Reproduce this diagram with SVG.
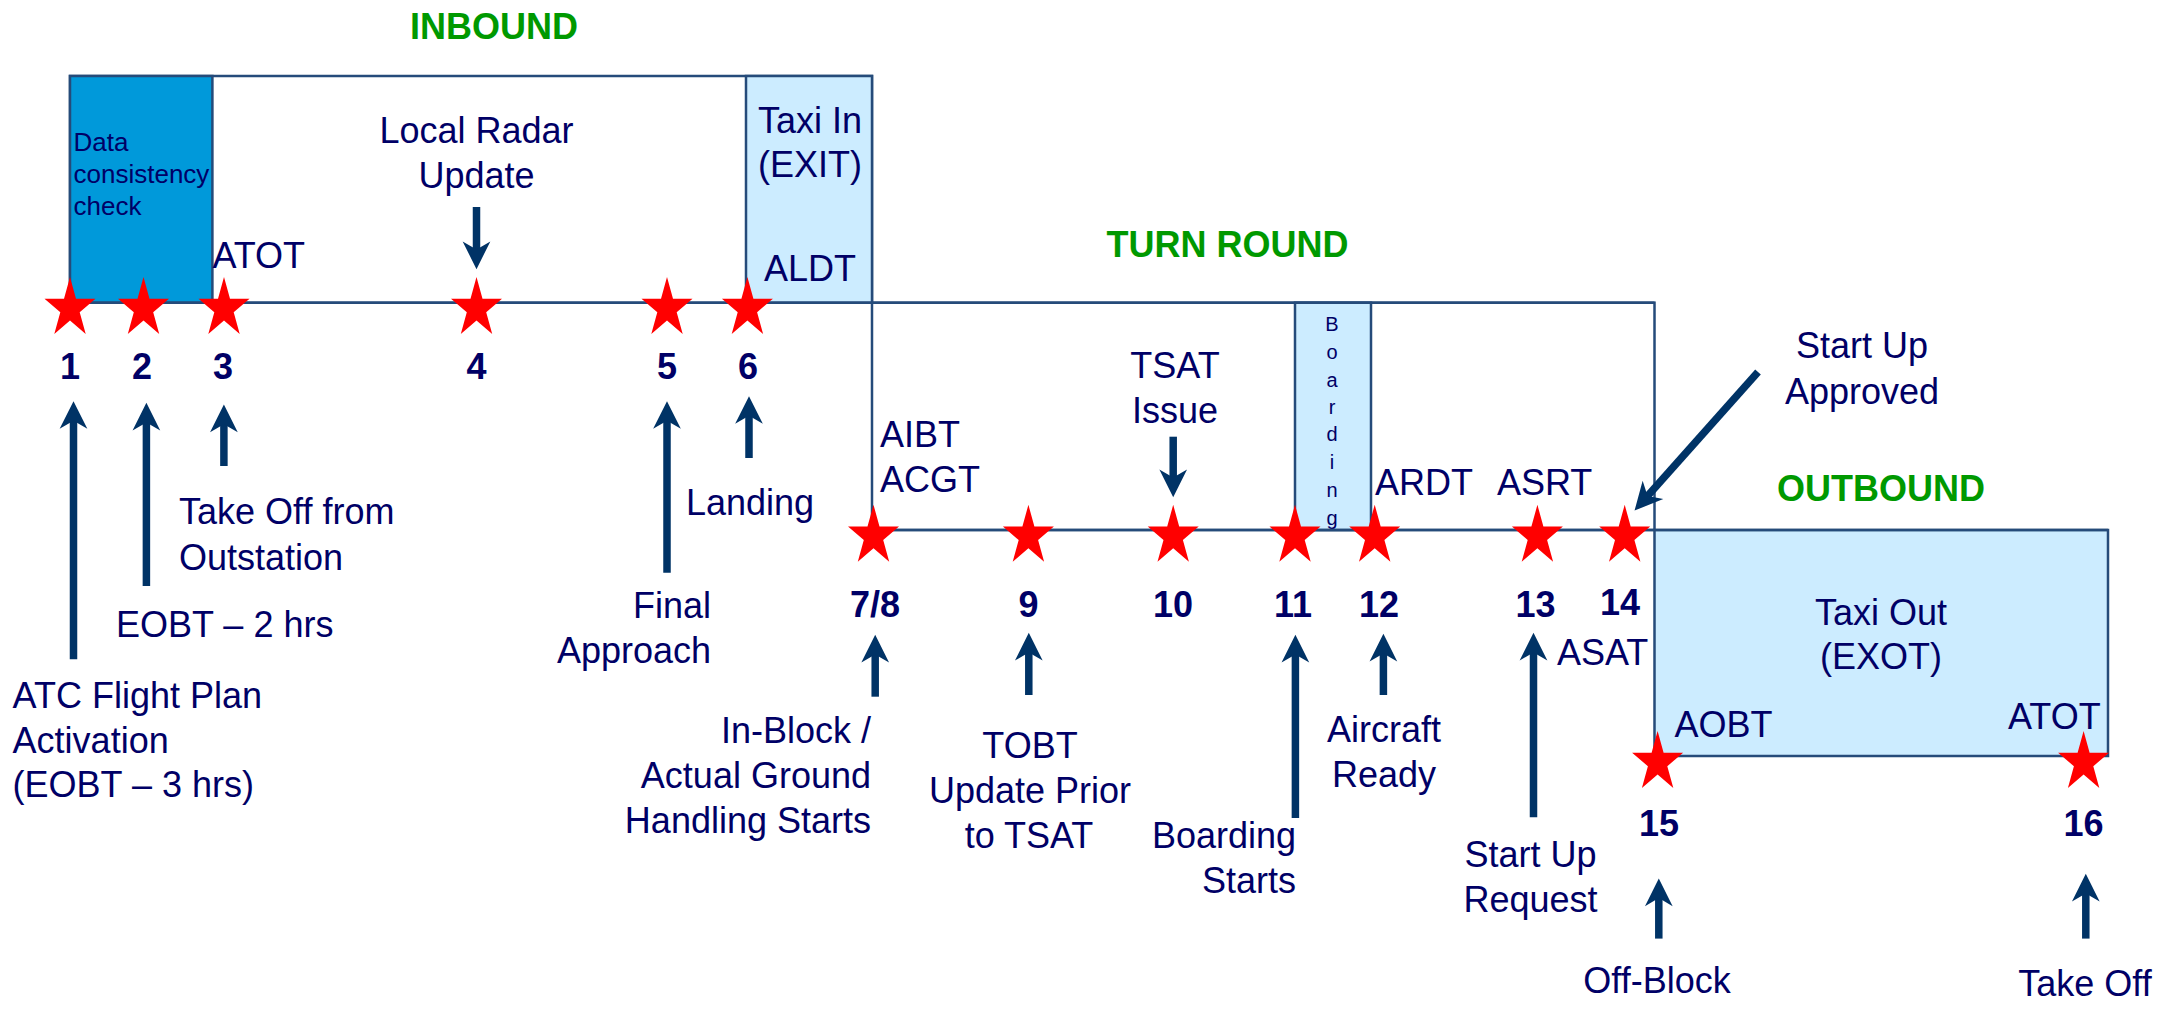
<svg xmlns="http://www.w3.org/2000/svg" width="2164" height="1010" viewBox="0 0 2164 1010">
<defs>
<style>
.t{font-family:"Liberation Sans",Arial,sans-serif;font-size:36px;fill:#000066}
.m{text-anchor:middle}
.e{text-anchor:end}
.n{font-family:"Liberation Sans",Arial,sans-serif;font-size:36px;font-weight:bold;fill:#000066;text-anchor:middle}
.g{font-family:"Liberation Sans",Arial,sans-serif;font-size:36px;font-weight:bold;fill:#009900;text-anchor:middle}
.box{stroke:#254B7A;stroke-width:2.5}
.ar{stroke:#003366;stroke-width:7.5;fill:none;marker-end:url(#ah)}
</style>
<marker id="ah" markerUnits="userSpaceOnUse" markerWidth="30" markerHeight="30" viewBox="0 -13 25 26" refX="10" refY="0" orient="auto">
<path d="M24,0 L0,-12 L7,0 L0,12 Z" fill="#003366"/>
</marker>
<path id="star" d="M0,-31.5 L6,-9.7 L25.5,-9.7 L9.7,3.7 L15.7,25.5 L0,12 L-15.7,25.5 L-9.7,3.7 L-25.5,-9.7 L-6,-9.7 Z" fill="#FF0000"/>
</defs>
<rect width="2164" height="1010" fill="#FFFFFF"/>

<g id="phase-inbound">
<text class="g" x="494" y="39">INBOUND</text>
<rect class="box" x="70" y="76" width="802" height="226.7" fill="#FFFFFF"/>
</g>
<g id="phase-turnround">
<text class="g" x="1227.5" y="257">TURN ROUND</text>
<rect class="box" x="872" y="302.7" width="782.5" height="227.3" fill="#FFFFFF"/>
</g>
<g id="phase-outbound">
<text class="g" x="1881" y="500.6">OUTBOUND</text>
<rect class="box" x="1654.5" y="530" width="453.5" height="226" fill="#CCECFF"/>
<text class="t m" x="1881" y="625">Taxi Out</text>
<text class="t m" x="1881" y="669">(EXOT)</text>
</g>
<g id="data-check">
<rect class="box" x="70" y="76" width="142.4" height="226.7" fill="#0099DA"/>
<text class="t" style="font-size:26px" x="73.5" y="150.7">Data</text>
<text class="t" style="font-size:26px" x="73.5" y="182.7">consistency</text>
<text class="t" style="font-size:26px" x="73.5" y="214.5">check</text>
</g>
<g id="taxi-in">
<rect class="box" x="746" y="76" width="126" height="226.7" fill="#CCECFF"/>
<text class="t m" x="810" y="133">Taxi In</text>
<text class="t m" x="810" y="177">(EXIT)</text>
<text class="t m" x="810" y="281">ALDT</text>
</g>
<g id="boarding">
<rect class="box" x="1295" y="302.7" width="76" height="227.3" fill="#CCECFF"/>
<g class="t m" style="font-size:20px">
<text x="1332" y="331">B</text>
<text x="1332" y="359">o</text>
<text x="1332" y="387">a</text>
<text x="1332" y="414">r</text>
<text x="1332" y="441">d</text>
<text x="1332" y="469">i</text>
<text x="1332" y="497">n</text>
<text x="1332" y="525">g</text>
</g>
</g>
<line class="box" x1="70" y1="302.7" x2="1654.5" y2="302.7" stroke-width="3"/>
<line class="box" x1="872" y1="530" x2="2108" y2="530" stroke-width="3"/>

<g id="connectors">
<line class="ar" x1="73.5" y1="659.3" x2="73.5" y2="417.3"/>
<line class="ar" x1="146.4" y1="586" x2="146.4" y2="419"/>
<line class="ar" x1="223.9" y1="466" x2="223.9" y2="420.7"/>
<line class="ar" x1="476.5" y1="207" x2="476.5" y2="253"/>
<line class="ar" x1="667" y1="572.7" x2="667" y2="417.3"/>
<line class="ar" x1="749" y1="458" x2="749" y2="412.3"/>
<line class="ar" x1="875.2" y1="696.7" x2="875.2" y2="651"/>
<line class="ar" x1="1028.8" y1="695" x2="1028.8" y2="649"/>
<line class="ar" x1="1173.2" y1="436.7" x2="1173.2" y2="481"/>
<line class="ar" x1="1295.4" y1="818" x2="1295.4" y2="651"/>
<line class="ar" x1="1383.4" y1="695" x2="1383.4" y2="650"/>
<line class="ar" x1="1533.5" y1="817.3" x2="1533.5" y2="649"/>
<line class="ar" x1="1758" y1="372" x2="1645.3" y2="498.5"/>
<line class="ar" x1="1658.8" y1="938.6" x2="1658.8" y2="894.6"/>
<line class="ar" x1="2085.8" y1="938.6" x2="2085.8" y2="890"/>
</g>

<g id="m1">
<use href="#star" transform="translate(70,308.5)"/>
<text class="n" x="70" y="379">1</text>
<text class="t" x="12.6" y="708.3">ATC Flight Plan</text>
<text class="t" x="12.6" y="752.7">Activation</text>
<text class="t" x="12.6" y="796.7">(EOBT – 3 hrs)</text>
</g>
<g id="m2">
<use href="#star" transform="translate(143.5,308.5)"/>
<text class="n" x="142" y="379">2</text>
<text class="t" x="116" y="636.7">EOBT – 2 hrs</text>
</g>
<g id="m3">
<use href="#star" transform="translate(224,308.5)"/>
<text class="n" x="223" y="379">3</text>
<text class="t" x="212.4" y="268">ATOT</text>
<text class="t" x="179" y="524.3">Take Off from</text>
<text class="t" x="179" y="570">Outstation</text>
</g>
<g id="m4">
<use href="#star" transform="translate(476.5,308.5)"/>
<text class="n" x="476.5" y="379">4</text>
<text class="t m" x="476.5" y="143">Local Radar</text>
<text class="t m" x="476.5" y="188">Update</text>
</g>
<g id="m5">
<use href="#star" transform="translate(667,308.5)"/>
<text class="n" x="667" y="379">5</text>
<text class="t e" x="711" y="618.3">Final</text>
<text class="t e" x="711" y="663.3">Approach</text>
</g>
<g id="m6">
<use href="#star" transform="translate(747.4,308.5)"/>
<text class="n" x="748" y="379">6</text>
<text class="t" x="686" y="515">Landing</text>
</g>
<g id="m7-8">
<use href="#star" transform="translate(873.5,536.3)"/>
<text class="n" x="875" y="616.5">7/8</text>
<text class="t" x="880" y="447.3">AIBT</text>
<text class="t" x="880" y="492.3">ACGT</text>
<text class="t e" x="871" y="742.7">In-Block /</text>
<text class="t e" x="871" y="788.3">Actual Ground</text>
<text class="t e" x="871" y="833.3">Handling Starts</text>
</g>
<g id="m9">
<use href="#star" transform="translate(1028.4,536.3)"/>
<text class="n" x="1028.5" y="616.5">9</text>
<text class="t m" x="1030" y="758.3">TOBT</text>
<text class="t m" x="1030" y="803.3">Update Prior</text>
<text class="t m" x="1029" y="847.7">to TSAT</text>
</g>
<g id="m10">
<use href="#star" transform="translate(1173.2,536.3)"/>
<text class="n" x="1173" y="616.5">10</text>
<text class="t m" x="1175" y="378.3">TSAT</text>
<text class="t m" x="1175" y="422.7">Issue</text>
</g>
<g id="m11">
<use href="#star" transform="translate(1295,536.3)"/>
<text class="n" x="1293" y="616.5">11</text>
<text class="t e" x="1296" y="847.7">Boarding</text>
<text class="t e" x="1296" y="892.7">Starts</text>
</g>
<g id="m12">
<use href="#star" transform="translate(1374.7,536.3)"/>
<text class="n" x="1379" y="616.5">12</text>
<text class="t" x="1375" y="495">ARDT</text>
<text class="t m" x="1384" y="741.7">Aircraft</text>
<text class="t m" x="1384" y="786.7">Ready</text>
</g>
<g id="m13">
<use href="#star" transform="translate(1537.4,536.3)"/>
<text class="n" x="1535.5" y="616.5">13</text>
<text class="t" x="1497" y="495">ASRT</text>
<text class="t m" x="1530.5" y="866.7">Start Up</text>
<text class="t m" x="1530.5" y="911.7">Request</text>
</g>
<g id="m14">
<use href="#star" transform="translate(1624.7,536.3)"/>
<text class="n" x="1620" y="615">14</text>
<text class="t" x="1557" y="664.6">ASAT</text>
<text class="t m" x="1862" y="358">Start Up</text>
<text class="t m" x="1862" y="404">Approved</text>
</g>
<g id="m15">
<use href="#star" transform="translate(1657.6,762.5)"/>
<text class="n" x="1659" y="836">15</text>
<text class="t" x="1674.5" y="737">AOBT</text>
<text class="t m" x="1657" y="993">Off-Block</text>
</g>
<g id="m16">
<use href="#star" transform="translate(2083.6,762.5)"/>
<text class="n" x="2083.6" y="836">16</text>
<text class="t" x="2008" y="729">ATOT</text>
<text class="t m" x="2085" y="996">Take Off</text>
</g>
</svg>
